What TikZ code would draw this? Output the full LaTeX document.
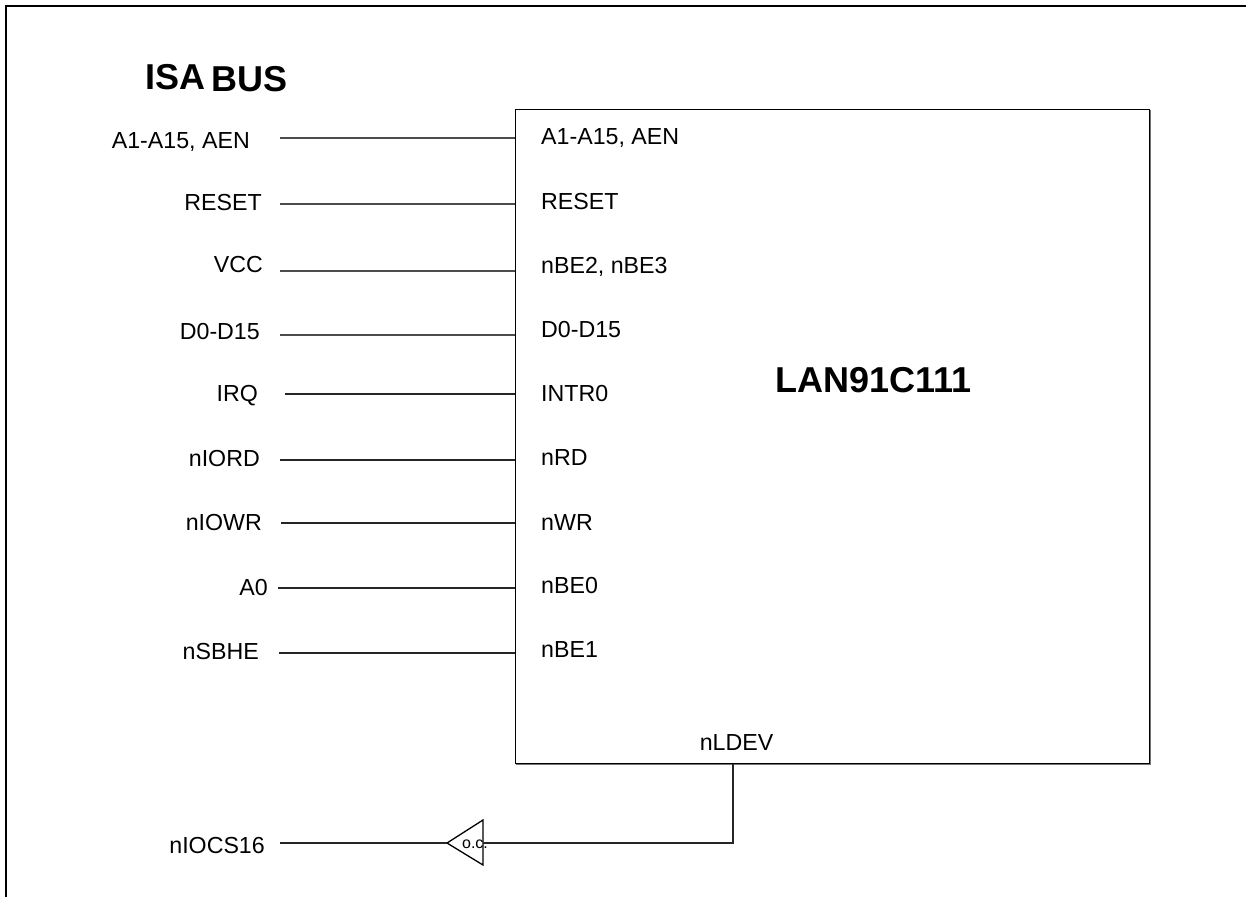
\documentclass[tikz,border=0pt]{standalone}
\usepackage{fontspec}
\setmainfont{Liberation Sans}
\begin{document}
\begin{tikzpicture}[x=1pt,y=-1pt,
  pin/.style={font=\fontsize{23.2}{26}\selectfont, inner sep=0pt},
  lpin/.style={pin, anchor=base east},
  rpin/.style={pin, anchor=base west},
  title/.style={font=\fontsize{36}{40}\selectfont\bfseries, inner sep=0pt, anchor=base west},
  wire/.style={line width=1.3pt, black!85},
  wirel/.style={line width=1.2pt, black!70}]
\useasboundingbox (0,0) rectangle (1246,897);
% frame (top and left edges)
\draw[line width=2.5pt] (6,897) -- (6,6) -- (1246,6);
% titles
\node[title] (isa) at (145,89) {ISA};
\node[title] (bus) at (211,91) {BUS};
% chip
\node[draw, line width=1.2pt, minimum width=634pt, minimum height=654pt, anchor=north west, inner sep=0pt] (chip) at (515,109) {};
\draw[black!55, line width=1pt] (1150.8,110) -- (1150.8,764.8) -- (516,764.8);
\node[font=\fontsize{36}{40}\selectfont\bfseries, inner sep=0pt, anchor=base west] (name) at (775,392) {LAN91C111};
% left labels
\node[lpin] (l1) at (250,148) {A1-A15, AEN};
\node[lpin] (l2) at (262,210) {RESET};
\node[lpin] (l3) at (263,272) {VCC};
\node[lpin] (l4) at (260,339) {D0-D15};
\node[lpin] (l5) at (258,401) {IRQ};
\node[lpin] (l6) at (260,466) {nIORD};
\node[lpin] (l7) at (262,530) {nIOWR};
\node[lpin] (l8) at (268,595) {A0};
\node[lpin] (l9) at (259,659) {nSBHE};
\node[lpin] (l10) at (265,853) {nIOCS16};
% right labels
\node[rpin] (r1) at (541,144) {A1-A15, AEN};
\node[rpin] (r2) at (541,209) {RESET};
\node[rpin] (r3) at (541,273) {nBE2, nBE3};
\node[rpin] (r4) at (541,337) {D0-D15};
\node[rpin] (r5) at (541,401) {INTR0};
\node[rpin] (r6) at (541,465) {nRD};
\node[rpin] (r7) at (541,530) {nWR};
\node[rpin] (r8) at (541,593) {nBE0};
\node[rpin] (r9) at (541,657) {nBE1};
\node[pin, anchor=base] (r10) at (736.5,750) {nLDEV};
% wire ends
\coordinate (s1) at (280,138); \coordinate (e1) at (chip.west |- s1);
\coordinate (s2) at (280,204); \coordinate (e2) at (chip.west |- s2);
\coordinate (s3) at (280,271); \coordinate (e3) at (chip.west |- s3);
\coordinate (s4) at (280,335); \coordinate (e4) at (chip.west |- s4);
\coordinate (s5) at (285,394); \coordinate (e5) at (chip.west |- s5);
\coordinate (s6) at (280,460); \coordinate (e6) at (chip.west |- s6);
\coordinate (s7) at (281,523); \coordinate (e7) at (chip.west |- s7);
\coordinate (s8) at (278,588); \coordinate (e8) at (chip.west |- s8);
\coordinate (s9) at (279,653); \coordinate (e9) at (chip.west |- s9);
\draw[wirel] (s1) -- (e1);
\draw[wirel] (s2) -- (e2);
\draw[wirel] (s3) -- (e3);
\draw[wirel] (s4) -- (e4);
\draw[wire] (s5) -- (e5);
\draw[wire] (s6) -- (e6);
\draw[wire] (s7) -- (e7);
\draw[wire] (s8) -- (e8);
\draw[wire] (s9) -- (e9);
% open-collector buffer
\coordinate (tip) at (447,843);
\coordinate (bt) at (483,820);
\coordinate (bb) at (483,865);
\coordinate (bm) at (483,843);
\draw[line width=1.3pt, line join=miter] (bt) -- (tip) -- (bb) -- cycle;
\node[font=\fontsize{16}{18}\selectfont, inner sep=0pt, anchor=base] (oc) at (475,848.5) {o.c.};
\coordinate (s10) at (280,843);
\coordinate (ld) at (733,763.5);
\coordinate (corner) at (733,843);
\draw[wire] (s10) -- (tip);
\draw[wire] (ld) -- (corner) -- (bm);
\end{tikzpicture}
\end{document}
